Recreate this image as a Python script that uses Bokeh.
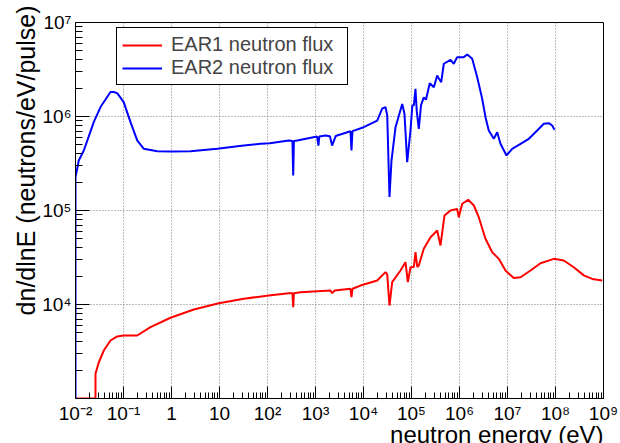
from bokeh.plotting import figure
from bokeh.models import FixedTicker, CustomJSTickFormatter, Title
from bokeh.embed import file_html
from bokeh.resources import INLINE

# ---- data ----
ear1_energy = [1.0e-2, 2.61e-2, 2.61e-2, 3.06e-2, 3.89e-2, 5.36e-2, 7.40e-2, 1.01e-1, 1.93e-1, 3.65e-1,
               9.53e-1, 2.92, 9.66, 32.1, 106, 278, 331, 343, 355, 487,
               2050, 2220, 2510, 5360, 5620, 5890, 8660, 1.93e4, 2.87e4, 3.12e4,
               3.48e4, 3.96e4, 5.90e4, 7.50e4, 8.39e4, 9.53e4, 1.12e5, 1.21e5, 1.32e5, 1.42e5,
               1.80e5, 2.49e5, 3.43e5, 4.02e5, 4.87e5, 6.49e5, 8.93e5, 9.66e5, 1.14e6, 1.52e6,
               1.99e6, 2.52e6, 3.48e6, 4.80e6, 6.59e6, 9.08e6, 1.35e7, 1.87e7, 3.01e7, 4.87e7,
               9.23e7, 1.49e8, 2.40e8, 3.89e8, 5.82e8, 9.40e8]
ear1_flux = [1.0e3, 1.0e3, 1.83e3, 2.43e3, 3.24e3, 4.14e3, 4.57e3, 4.68e3, 4.68e3, 5.74e3,
             7.23e3, 8.85e3, 1.03e4, 1.15e4, 1.25e4, 1.32e4, 1.32e4, 9.35e3, 1.32e4, 1.35e4,
             1.41e4, 1.32e4, 1.41e4, 1.47e4, 1.20e4, 1.47e4, 1.59e4, 1.80e4, 2.21e4, 2.09e4,
             9.75e3, 1.73e4, 2.30e4, 2.82e4, 1.73e4, 2.49e4, 2.51e4, 3.60e4, 2.51e4, 2.60e4,
             3.92e4, 5.20e4, 6.12e4, 4.25e4, 8.85e4, 1.00e5, 1.04e5, 8.49e4, 1.18e5, 1.30e5,
             1.13e5, 8.49e4, 5.00e4, 3.60e4, 3.06e4, 2.30e4, 1.91e4, 1.95e4, 2.30e4, 2.75e4,
             3.06e4, 2.94e4, 2.49e4, 2.04e4, 1.87e4, 1.80e4]

ear2_energy = [1.0e-2, 1.0e-2, 1.17e-2, 1.49e-2, 2.40e-2, 3.32e-2, 5.36e-2, 6.28e-2, 7.40e-2, 1.01e-1,
               1.40e-1, 1.93e-1, 2.65e-1, 5.04e-1, 9.53e-1, 2.49, 8.95, 32.1, 71.4, 112,
               278, 331, 343, 355, 415, 1080, 1150, 1200, 1610, 2000,
               2220, 2630, 2820, 5360, 5620, 5890, 1.01e4, 1.93e4, 2.45e4, 2.87e4,
               3.12e4, 3.48e4, 3.83e4, 4.65e4, 6.40e4, 7.14e4, 8.13e4, 9.53e4, 1.04e5, 1.12e5,
               1.21e5, 1.29e5, 1.42e5, 1.58e5, 1.80e5, 2.00e5, 2.40e5, 2.92e5, 3.43e5, 3.76e5,
               4.16e5, 4.71e5, 6.50e5, 7.60e5, 8.93e5, 1.23e6, 1.45e6, 1.84e6, 2.34e6, 2.97e6,
               3.48e6, 4.07e6, 5.19e6, 6.10e6, 7.14e6, 9.53e6, 1.25e7, 1.87e7, 2.78e7, 4.16e7,
               5.70e7, 7.24e7, 8.53e7, 9.53e7]
ear2_flux = [1.0e3, 2.26e5, 3.40e5, 4.35e5, 8.71e5, 1.26e6, 1.82e6, 1.82e6, 1.77e6, 1.42e6,
             8.71e5, 5.56e5, 4.53e5, 4.28e5, 4.25e5, 4.28e5, 4.53e5, 4.91e5, 5.12e5, 5.20e5,
             5.56e5, 5.50e5, 2.36e5, 5.50e5, 5.56e5, 6.12e5, 4.90e5, 6.12e5, 6.28e5, 6.17e5,
             4.91e5, 6.17e5, 6.28e5, 6.98e5, 4.35e5, 6.98e5, 7.69e5, 9.06e5, 1.21e6, 1.26e6,
             1.03e6, 1.39e5, 3.40e5, 7.69e5, 1.36e6, 1.07e6, 3.27e5, 7.10e5, 1.31e6, 1.32e6,
             1.97e6, 1.12e6, 7.40e5, 1.32e6, 1.60e6, 1.51e6, 2.26e6, 2.05e6, 2.73e6, 2.51e6,
             2.32e6, 3.64e6, 4.01e6, 3.64e6, 4.28e6, 4.28e6, 4.57e6, 4.11e6, 2.62e6, 1.54e6,
             9.84e5, 7.10e5, 5.79e5, 6.81e5, 5.12e5, 3.85e5, 4.53e5, 5.12e5, 5.79e5, 7.10e5,
             8.36e5, 8.49e5, 8.02e5, 7.21e5]

series_names = ["EAR1 neutron flux", "EAR2 neutron flux"]
x_ticks = [1e-2, 1e-1, 1, 10, 1e2, 1e3, 1e4, 1e5, 1e6, 1e7, 1e8, 1e9]
x_tick_labels = ["10⁻²", "10⁻¹", "1", "10", "10²", "10³", "10⁴", "10⁵", "10⁶", "10⁷", "10⁸", "10⁹"]
y_ticks = [1e4, 1e5, 1e6, 1e7]
y_tick_labels = ["10⁴", "10⁵", "10⁶", "10⁷"]
x_title = "neutron energy (eV)"
y_title = "dn/dlnE (neutrons/eV/pulse)"

FONT = "Liberation Sans"

p = figure(width=620, height=443, x_axis_type="log", y_axis_type="log",
           x_range=(1e-2, 1e9), y_range=(1e3, 1e7),
           output_backend="svg", toolbar_location=None,
           min_border_left=75, min_border_right=17, min_border_top=22, min_border_bottom=45)
p.background_fill_color = "white"
p.border_fill_color = "white"
p.outline_line_color = "black"
p.outline_line_width = 1

p.line(ear1_energy, ear1_flux, line_color="#ff0000", line_width=2, legend_label=series_names[0])
p.line(ear2_energy, ear2_flux, line_color="#0000ff", line_width=2, legend_label=series_names[1])

x_minor = [m * 10.0 ** e for e in range(-2, 9) for m in range(2, 10)]
y_minor = [m * 10.0 ** e for e in range(3, 7) for m in range(2, 10)]

fmt_code = """
let best = 0, d = Infinity;
for (let i = 0; i < tick_vals.length; i++) {
  const dd = Math.abs(Math.log10(tick_vals[i]) - Math.log10(tick));
  if (dd < d) { d = dd; best = i; }
}
return tick_texts[best];
"""

xa = p.xaxis[0]
xa.ticker = FixedTicker(ticks=x_ticks, minor_ticks=x_minor)
xa.formatter = CustomJSTickFormatter(args=dict(tick_vals=x_ticks, tick_texts=x_tick_labels), code=fmt_code)
xa.major_tick_in = 12
xa.minor_tick_in = 6

ya = p.yaxis[0]
ya.ticker = FixedTicker(ticks=y_ticks, minor_ticks=y_minor)
ya.formatter = CustomJSTickFormatter(args=dict(tick_vals=y_ticks, tick_texts=y_tick_labels), code=fmt_code)
ya.major_tick_in = 14
ya.minor_tick_in = 7

for ax in (xa, ya):
    ax.major_tick_out = 0
    ax.minor_tick_out = 0
    ax.major_tick_line_color = "black"
    ax.minor_tick_line_color = "black"
    ax.axis_line_color = "black"
    ax.major_label_standoff = 4
    ax.major_label_text_font = FONT
    ax.major_label_text_font_size = "19px"
    ax.major_label_text_color = "black"

# axis titles, right/top aligned as in the ROOT original
p.add_layout(Title(text=x_title, align="right", text_font=FONT, text_font_size="24px",
                   text_font_style="normal", text_color="black", standoff=-15), "below")
p.add_layout(Title(text=y_title, align="right", text_font=FONT, text_font_size="25px",
                   text_font_style="normal", text_color="black", standoff=-1, offset=-17), "left")

for g in (p.xgrid[0], p.ygrid[0]):
    g.grid_line_color = "#7a7a7a"
    g.grid_line_dash = "1 2"
    g.grid_line_width = 1

lg = p.legend[0]
lg.location = (41, 313)
lg.border_line_color = "black"
lg.border_line_width = 1
lg.border_line_alpha = 1
lg.background_fill_color = "white"
lg.background_fill_alpha = 1
lg.label_text_font = FONT
lg.label_text_font_size = "20px"
lg.glyph_width = 40
lg.glyph_height = 20
lg.label_height = 20
lg.label_width = 171
lg.label_standoff = 9
lg.padding = 5
lg.spacing = 0
lg.margin = 0

open("out.html", "w").write(file_html(p, INLINE))
